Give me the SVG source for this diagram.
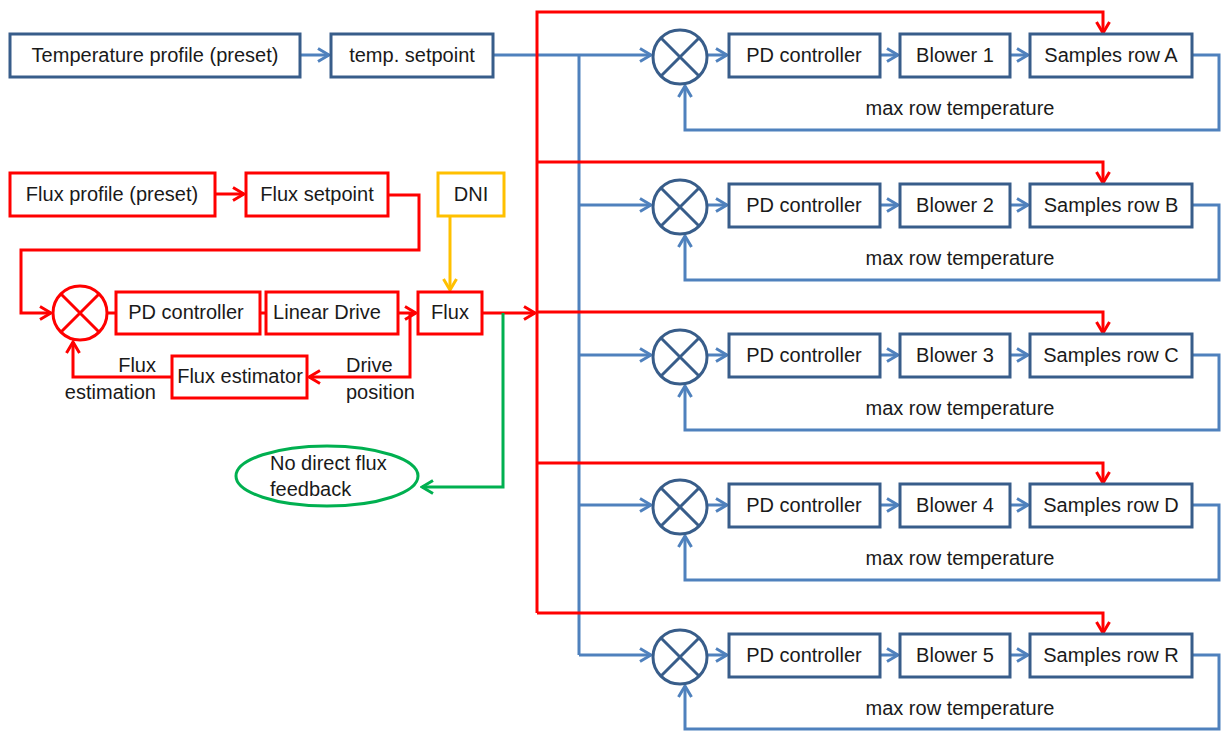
<svg xmlns="http://www.w3.org/2000/svg" width="1222" height="731" viewBox="0 0 1222 731">
<defs>
<style>
text{font-family:"Liberation Sans",Arial,sans-serif;font-size:20px;fill:#1a1a1a;}
.c{text-anchor:middle;}
.e{text-anchor:end;}
.bb{fill:#fff;stroke:#385D8A;stroke-width:3;}
.rb{fill:#fff;stroke:#FF0000;stroke-width:3;}
.yb{fill:#fff;stroke:#FFC000;stroke-width:3;}
.bl{fill:none;stroke:#4F81BD;stroke-width:3;}
.rl{fill:none;stroke:#FF0000;stroke-width:3;}
.gl{fill:none;stroke:#00B050;stroke-width:3;}
.yl{fill:none;stroke:#FFC000;stroke-width:3;}
.sb{fill:#fff;stroke:#385D8A;stroke-width:3;}
.sr{fill:#fff;stroke:#FF0000;stroke-width:3;}
</style>
<marker id="ab" markerUnits="userSpaceOnUse" markerWidth="16" markerHeight="16" viewBox="0 0 16 16" refX="14" refY="8" orient="auto"><path d="M3,1.5 L14,8 L3,14.5" fill="none" stroke="#4F81BD" stroke-width="3"/></marker>
<marker id="ar" markerUnits="userSpaceOnUse" markerWidth="16" markerHeight="16" viewBox="0 0 16 16" refX="14" refY="8" orient="auto"><path d="M3,1.5 L14,8 L3,14.5" fill="none" stroke="#FF0000" stroke-width="3"/></marker>
<marker id="ag" markerUnits="userSpaceOnUse" markerWidth="16" markerHeight="16" viewBox="0 0 16 16" refX="14" refY="8" orient="auto"><path d="M3,1.5 L14,8 L3,14.5" fill="none" stroke="#00B050" stroke-width="3"/></marker>
<marker id="ay" markerUnits="userSpaceOnUse" markerWidth="16" markerHeight="16" viewBox="0 0 16 16" refX="14" refY="8" orient="auto"><path d="M3,1.5 L14,8 L3,14.5" fill="none" stroke="#FFC000" stroke-width="3"/></marker>
<g id="sumB"><circle cx="0" cy="0" r="27" class="sb"/><path d="M-19,-19 L19,19 M19,-19 L-19,19" stroke="#385D8A" stroke-width="3"/></g>
</defs>

<g id="connectors">
<path class="bl" d="M300,55 L329,55" marker-end="url(#ab)"/>
<path class="bl" d="M493,55 L651,55" marker-end="url(#ab)"/>
<path class="bl" d="M579,55 L579,655"/>
<path class="bl" d="M579,205 L651,205" marker-end="url(#ab)"/>
<path class="bl" d="M579,355 L651,355" marker-end="url(#ab)"/>
<path class="bl" d="M579,505 L651,505" marker-end="url(#ab)"/>
<path class="bl" d="M579,655 L651,655" marker-end="url(#ab)"/>
<g id="rowlinks">
<path class="bl" d="M708,55 L727,55" marker-end="url(#ab)"/><path class="bl" d="M880,55 L898,55" marker-end="url(#ab)"/><path class="bl" d="M1010,55 L1028,55" marker-end="url(#ab)"/><path class="bl" d="M1192,55 L1219,55 L1219,130 L685,130 L685,86" marker-end="url(#ab)"/>
<path class="bl" d="M708,205 L727,205" marker-end="url(#ab)"/><path class="bl" d="M880,205 L898,205" marker-end="url(#ab)"/><path class="bl" d="M1010,205 L1028,205" marker-end="url(#ab)"/><path class="bl" d="M1192,205 L1219,205 L1219,280 L685,280 L685,236" marker-end="url(#ab)"/>
<path class="bl" d="M708,355 L727,355" marker-end="url(#ab)"/><path class="bl" d="M880,355 L898,355" marker-end="url(#ab)"/><path class="bl" d="M1010,355 L1028,355" marker-end="url(#ab)"/><path class="bl" d="M1192,355 L1219,355 L1219,430 L685,430 L685,386" marker-end="url(#ab)"/>
<path class="bl" d="M708,505 L727,505" marker-end="url(#ab)"/><path class="bl" d="M880,505 L898,505" marker-end="url(#ab)"/><path class="bl" d="M1010,505 L1028,505" marker-end="url(#ab)"/><path class="bl" d="M1192,505 L1219,505 L1219,580 L685,580 L685,536" marker-end="url(#ab)"/>
<path class="bl" d="M708,655 L727,655" marker-end="url(#ab)"/><path class="bl" d="M880,655 L898,655" marker-end="url(#ab)"/><path class="bl" d="M1010,655 L1028,655" marker-end="url(#ab)"/><path class="bl" d="M1192,655 L1219,655 L1219,729 L685,729 L685,686" marker-end="url(#ab)"/>
</g>
<path class="rl" d="M537,613 L537,12 L1103,12 L1103,33" marker-end="url(#ar)"/>
<path class="rl" d="M537,162 L1103,162 L1103,183" marker-end="url(#ar)"/>
<path class="rl" d="M537,312 L1103,312 L1103,333" marker-end="url(#ar)"/>
<path class="rl" d="M537,463 L1103,463 L1103,483" marker-end="url(#ar)"/>
<path class="rl" d="M537,613 L1103,613 L1103,633" marker-end="url(#ar)"/>
<path class="rl" d="M482,313 L535,313" marker-end="url(#ar)"/>
<path class="rl" d="M215,194 L244,194" marker-end="url(#ar)"/>
<path class="rl" d="M388,195 L419,195 L419,250 L21,250 L21,313 L51,313" marker-end="url(#ar)"/>
<path class="rl" d="M107,313 L116,313"/>
<path class="rl" d="M260,313 L266,313"/>
<path class="rl" d="M398,313 L416,313" marker-end="url(#ar)"/>
<path class="rl" d="M410,313 L410,377 L309,377" marker-end="url(#ar)"/>
<path class="rl" d="M172,377 L73,377 L73,342" marker-end="url(#ar)"/>
<path class="yl" d="M450,215 L450,290" marker-end="url(#ay)"/>
<path class="gl" d="M503,313 L503,487 L422,487" marker-end="url(#ag)"/>
</g>

<g id="n-tprofile"><rect class="bb" x="10" y="34" width="290" height="43"/><text class="c" x="155" y="62">Temperature profile (preset)</text></g>
<g id="n-tset"><rect class="bb" x="331" y="34" width="162" height="43"/><text class="c" x="412" y="62">temp. setpoint</text></g>

<g id="n-fprofile"><rect class="rb" x="10" y="173" width="205" height="43"/><text class="c" x="112" y="201">Flux profile (preset)</text></g>
<g id="n-fset"><rect class="rb" x="246" y="173" width="142" height="43"/><text class="c" x="317" y="201">Flux setpoint</text></g>
<g id="n-dni"><rect class="yb" x="438" y="173" width="66" height="43"/><text class="c" x="471" y="201">DNI</text></g>
<g id="n-fsum"><circle cx="80" cy="313" r="27" class="sr"/><path d="M61,294 L99,332 M99,294 L61,332" stroke="#FF0000" stroke-width="3"/></g>
<g id="n-fpd"><rect class="rb" x="116" y="292" width="144" height="42"/><text class="c" x="186" y="319">PD controller</text></g>
<g id="n-ld"><rect class="rb" x="266" y="292" width="132" height="42"/><text class="c" x="327" y="319">Linear Drive</text></g>
<g id="n-flux"><rect class="rb" x="418" y="292" width="64" height="42"/><text class="c" x="450" y="319">Flux</text></g>
<g id="n-fest"><rect class="rb" x="172" y="356" width="135" height="42"/><text class="c" x="240" y="383">Flux estimator</text></g>
<g id="l-fluxest"><text class="e" x="156" y="372">Flux</text><text class="e" x="156" y="399">estimation</text></g>
<g id="l-drivepos"><text x="346" y="372">Drive</text><text x="346" y="399">position</text></g>
<g id="n-nofb"><ellipse cx="327" cy="476" rx="91" ry="30" fill="#fff" stroke="#00B050" stroke-width="3"/><text x="270" y="470">No direct flux</text><text x="270" y="496">feedback</text></g>

<g id="row-A">
<use href="#sumB" x="680" y="57"/>
<rect class="bb" x="729" y="34" width="151" height="43"/><text class="c" x="804" y="62">PD controller</text>
<rect class="bb" x="900" y="34" width="110" height="43"/><text class="c" x="955" y="62">Blower 1</text>
<rect class="bb" x="1030" y="34" width="162" height="43"/><text class="c" x="1111" y="62">Samples row A</text>
<text class="c" x="960" y="115">max row temperature</text>
</g>
<g id="row-B">
<use href="#sumB" x="680" y="207"/>
<rect class="bb" x="729" y="184" width="151" height="43"/><text class="c" x="804" y="212">PD controller</text>
<rect class="bb" x="900" y="184" width="110" height="43"/><text class="c" x="955" y="212">Blower 2</text>
<rect class="bb" x="1030" y="184" width="162" height="43"/><text class="c" x="1111" y="212">Samples row B</text>
<text class="c" x="960" y="265">max row temperature</text>
</g>
<g id="row-C">
<use href="#sumB" x="680" y="357"/>
<rect class="bb" x="729" y="334" width="151" height="43"/><text class="c" x="804" y="362">PD controller</text>
<rect class="bb" x="900" y="334" width="110" height="43"/><text class="c" x="955" y="362">Blower 3</text>
<rect class="bb" x="1030" y="334" width="162" height="43"/><text class="c" x="1111" y="362">Samples row C</text>
<text class="c" x="960" y="415">max row temperature</text>
</g>
<g id="row-D">
<use href="#sumB" x="680" y="507"/>
<rect class="bb" x="729" y="484" width="151" height="43"/><text class="c" x="804" y="512">PD controller</text>
<rect class="bb" x="900" y="484" width="110" height="43"/><text class="c" x="955" y="512">Blower 4</text>
<rect class="bb" x="1030" y="484" width="162" height="43"/><text class="c" x="1111" y="512">Samples row D</text>
<text class="c" x="960" y="565">max row temperature</text>
</g>
<g id="row-R">
<use href="#sumB" x="680" y="657"/>
<rect class="bb" x="729" y="634" width="151" height="43"/><text class="c" x="804" y="662">PD controller</text>
<rect class="bb" x="900" y="634" width="110" height="43"/><text class="c" x="955" y="662">Blower 5</text>
<rect class="bb" x="1030" y="634" width="162" height="43"/><text class="c" x="1111" y="662">Samples row R</text>
<text class="c" x="960" y="715">max row temperature</text>
</g>
</svg>
